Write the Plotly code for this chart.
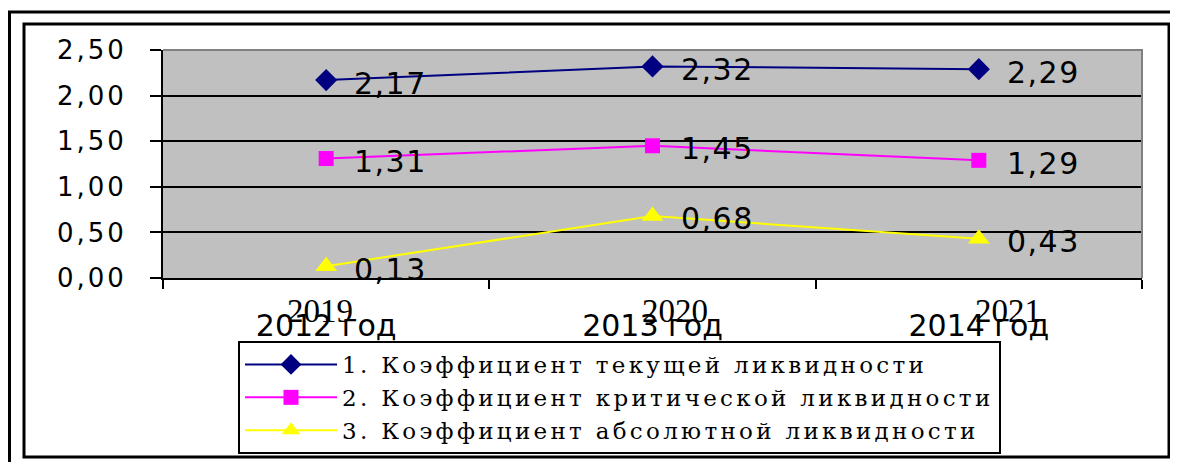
import plotly.graph_objects as go

# ---- data ----
categories = ["2012 год", "2013 год", "2014 год"]
years = ["2019", "2020", "2021"]
current_ratio = [2.17, 2.32, 2.29]
quick_ratio = [1.31, 1.45, 1.29]
absolute_ratio = [0.13, 0.68, 0.43]
series_names = [
    "1. Коэффициент текущей ликвидности",
    "2. Коэффициент критической ликвидности",
    "3. Коэффициент абсолютной ликвидности",
]
y_tick_values = [0, 0.5, 1.0, 1.5, 2.0, 2.5]
y_tick_labels = ["0,00", "0,50", "1,00", "1,50", "2,00", "2,50"]

# ---- styles ----
series_values = [current_ratio, quick_ratio, absolute_ratio]
colors = ["#000080", "#FF00FF", "#FFFF00"]
symbols = ["diamond", "square", "triangle-up"]
marker_sizes = [17, 15, 19]
year_label_shift = [-6, 22, 29]

SANS = "DejaVu Sans"
SERIF_LEG = "DejaVu Serif"
SERIF = "Liberation Serif"

# page body adds an 8px margin; plot area sits at window px 163..1142 x 50..278
OFF = 8
PL, PT, PW, PH = 163, 50, 979, 228


def spaced(text, px):
    return f'<span style="letter-spacing:{px}px">{text}</span>'


fig = go.Figure()
for name, vals, col, sym, ms in zip(series_names, series_values, colors, symbols, marker_sizes):
    fig.add_trace(go.Scatter(
        x=categories, y=vals, name=spaced(name, 3.3), mode="lines+markers",
        line=dict(color=col, width=2),
        marker=dict(symbol=sym, size=ms, color=col, line=dict(width=0)),
        cliponaxis=False,
    ))

annotations = []
for vals in series_values:
    for c, v in zip(categories, vals):
        annotations.append(dict(
            x=c, y=v, xref="x", yref="y",
            text=spaced(f"{v:.2f}".replace(".", ","), 1.5),
            showarrow=False, xanchor="left", yanchor="middle",
            xshift=26, yshift=-3,
            font=dict(family=SANS, size=30, color="black"),
        ))
for c, yr, sh in zip(categories, years, year_label_shift):
    annotations.append(dict(
        x=c, y=0, xref="x", yref="paper", text=yr, showarrow=False,
        xanchor="center", yanchor="top", xshift=sh, yshift=-13,
        font=dict(family=SERIF, size=33, color="black"),
    ))


def px_x(p):
    return (p - PL) / float(PW)


def px_y(p):
    return (PT + PH - p) / float(PH)


shapes = [
    # plot background
    dict(type="rect", xref="paper", yref="paper", x0=0, x1=1, y0=0, y1=1,
         fillcolor="#C0C0C0", line=dict(width=0), layer="below"),
    # gray top/right frame
    dict(type="path", xref="paper", yref="paper",
         path="M 0,1 L 1,1 L 1,0", line=dict(color="#808080", width=2), layer="above"),
    # outer frames
    dict(type="rect", xref="paper", yref="paper",
         x0=px_x(9.5), x1=px_x(1190), y0=px_y(475), y1=px_y(12),
         line=dict(color="black", width=3), fillcolor="rgba(0,0,0,0)", layer="below"),
    dict(type="rect", xref="paper", yref="paper",
         x0=px_x(24), x1=px_x(1169), y0=px_y(457), y1=px_y(24),
         line=dict(color="black", width=3), fillcolor="rgba(0,0,0,0)", layer="below"),
]

W, H = 1178 - OFF, 462 - OFF
fig.update_layout(
    width=W, height=H,
    margin=dict(l=PL - OFF, r=W - (PL - OFF) - PW, t=PT - OFF,
                b=H - (PT - OFF) - PH, autoexpand=False),
    paper_bgcolor="white", plot_bgcolor="rgba(0,0,0,0)",
    showlegend=True,
    legend=dict(
        x=px_x(238), y=px_y(341), xanchor="left", yanchor="top",
        xref="paper", yref="paper",
        bgcolor="white", bordercolor="black", borderwidth=2,
        font=dict(family=SERIF_LEG, size=23, color="black"),
        itemwidth=92, tracegroupgap=0,
    ),
    xaxis=dict(
        type="category", range=[-0.5, 2.5], tickson="boundaries",
        ticks="outside", ticklen=9, tickwidth=2, tickcolor="black",
        showline=True, linecolor="black", linewidth=2, showgrid=False,
        tickfont=dict(family=SANS, size=30, color="black"),
        ticklabelstandoff=20,
    ),
    yaxis=dict(
        range=[0, 2.5], tickvals=y_tick_values,
        ticktext=[spaced(t, 3) for t in y_tick_labels],
        ticks="outside", ticklen=11, tickwidth=2, tickcolor="black",
        showline=True, linecolor="black", linewidth=2,
        showgrid=True, gridcolor="black", gridwidth=2, zeroline=False,
        tickfont=dict(family=SANS, size=26, color="black"),
        ticklabelstandoff=18,
    ),
    shapes=shapes,
    annotations=annotations,
)

fig.write_html("out.html")
